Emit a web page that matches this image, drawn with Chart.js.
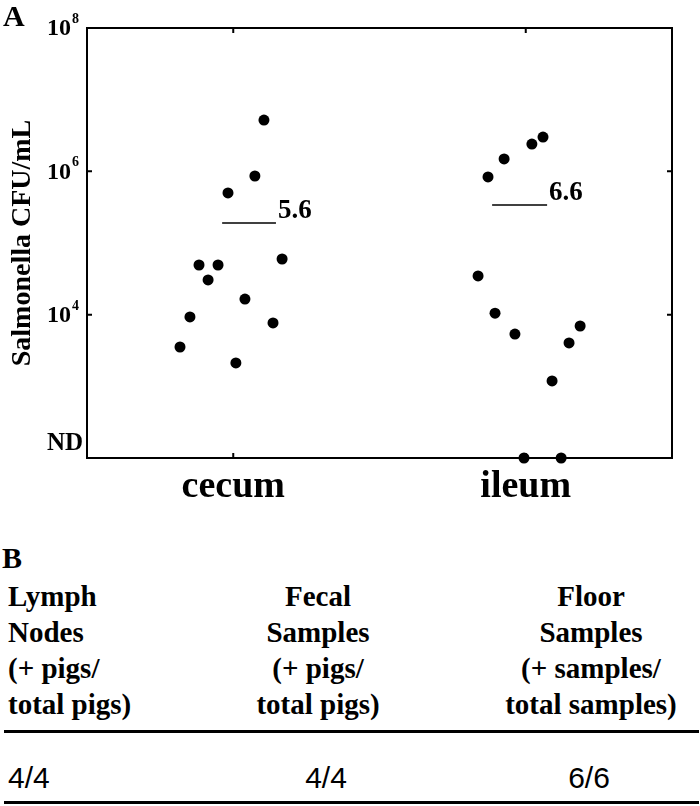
<!DOCTYPE html>
<html>
<head>
<meta charset="utf-8">
<script src="https://cdn.jsdelivr.net/npm/chart.js@4.4.1/dist/chart.umd.min.js"></script>
<style>
  html, body { margin: 0; padding: 0; background: #fff; }
  body { width: 700px; height: 806px; position: relative; overflow: hidden; font-family: "Liberation Serif", "Times New Roman", serif; color: #000; }
  #chart { position: absolute; left: 0; top: 0; }
  .panel { position: absolute; font-weight: bold; font-size: 30px; line-height: 1; }
  .hdr { position: absolute; font-weight: bold; font-size: 29px; line-height: 36px; white-space: nowrap; }
  .val { position: absolute; font-family: "Liberation Sans", Arial, sans-serif; font-size: 30px; line-height: 1; white-space: nowrap; }
  .rule { position: absolute; left: 4px; width: 695px; height: 3px; background: #000; }
</style>
</head>
<body>
<canvas id="chart" width="700" height="520"></canvas>
<div class="panel" style="left:3px; top:1px;">A</div>
<div class="panel" style="left:2px; top:543px;">B</div>
<div id="table"></div>
<script>
// ---------- data ----------
const categories = ["cecum", "ileum"];
const categoryPos = [1, 2];
const yTickValues = [1e2, 1e4, 1e6, 1e8];
const yTickBase = ["ND", "10", "10", "10"];
const yTickExp  = ["", "4", "6", "8"];
const yTitle = "Salmonella CFU/mL";

// cecum: jittered x position and CFU/mL
const cecumX   = [0.818, 0.852, 0.883, 0.914, 0.948, 0.982, 1.009, 1.040, 1.074, 1.105, 1.136, 1.167];
const cecumCFU = [3540, 9290, 49300, 30500, 49300, 499000, 2120, 16500, 861000, 5200000, 7660, 59800];

// ileum: jittered x position and CFU/mL (100 = ND)
const ileumX   = [1.837, 1.871, 1.895, 1.926, 1.963, 1.994, 2.021, 2.059, 2.090, 2.121, 2.148, 2.186];
const ileumCFU = [34700, 834000, 10500, 1490000, 5370, 100, 2400000, 3010000, 1190, 100, 4030, 6950];

// mean bars
const meanXStart = [0.962, 1.885];
const meanXEnd   = [1.146, 2.073];
const meanCFU    = [190000, 339000];
const meanLabels = ["5.6", "6.6"];

// table (panel B)
const tableHeaders = [
  ["Lymph", "Nodes", "(+ pigs/", "total pigs)"],
  ["Fecal", "Samples", "(+ pigs/", "total pigs)"],
  ["Floor", "Samples", "(+ samples/", "total samples)"]
];
const tableValues = ["4/4", "4/4", "6/6"];

// ---------- table ----------
const tbl = document.getElementById('table');
const hdrPlace = [
  {left: 8, width: 200, align: 'left'},
  {left: 218, width: 200, align: 'center'},
  {left: 491, width: 200, align: 'center'}
];
const valPlace = [
  {left: 8, width: 100, align: 'left'},
  {left: 276, width: 100, align: 'center'},
  {left: 539, width: 100, align: 'center'}
];
tableHeaders.forEach((lines, i) => {
  const d = document.createElement('div');
  d.className = 'hdr';
  d.style.left = hdrPlace[i].left + 'px';
  d.style.width = hdrPlace[i].width + 'px';
  d.style.textAlign = hdrPlace[i].align;
  d.style.top = '578px';
  lines.forEach(t => {
    const s = document.createElement('div');
    s.textContent = t;
    d.appendChild(s);
  });
  tbl.appendChild(d);
});
tableValues.forEach((t, i) => {
  const d = document.createElement('div');
  d.className = 'val';
  d.style.left = valPlace[i].left + 'px';
  d.style.width = valPlace[i].width + 'px';
  d.style.textAlign = valPlace[i].align;
  d.style.top = '763px';
  d.textContent = t;
  tbl.appendChild(d);
});
[730, 801].forEach(y => {
  const r = document.createElement('div');
  r.className = 'rule';
  r.style.top = y + 'px';
  tbl.appendChild(r);
});

// ---------- chart ----------
const FONT = "'Liberation Serif', 'Times New Roman', serif";

const framePlugin = {
  id: 'frame',
  beforeDatasetsDraw(chart) {
    const {ctx, chartArea: a, scales: {x, y}} = chart;
    ctx.save();
    ctx.strokeStyle = '#000';
    ctx.lineWidth = 2;
    ctx.strokeRect(a.left, a.top, a.right - a.left, a.bottom - a.top);
    const L = 5;
    ctx.beginPath();
    y.ticks.forEach(t => {
      const py = y.getPixelForValue(t.value);
      ctx.moveTo(a.left, py); ctx.lineTo(a.left + L, py);
      ctx.moveTo(a.right, py); ctx.lineTo(a.right - L, py);
    });
    x.ticks.forEach(t => {
      const px = x.getPixelForValue(t.value);
      ctx.moveTo(px, a.top); ctx.lineTo(px, a.top + L);
      ctx.moveTo(px, a.bottom); ctx.lineTo(px, a.bottom - L);
    });
    ctx.stroke();

    // y tick labels with real superscript exponents
    ctx.fillStyle = '#000';
    const right = a.left - 8;
    y.ticks.forEach((t, i) => {
      const py = y.getPixelForValue(t.value);
      const exp = yTickExp[i];
      ctx.textAlign = 'right';
      if (exp) {
        ctx.font = "bold 14px " + FONT;
        ctx.textBaseline = 'alphabetic';
        const ew = ctx.measureText(exp).width;
        ctx.fillText(exp, right, py - 5);
        ctx.font = "bold 24px " + FONT;
        ctx.textBaseline = 'middle';
        ctx.fillText(yTickBase[i], right - ew - 1, py + 1);
      } else {
        ctx.font = "bold 25px " + FONT;
        ctx.textBaseline = 'alphabetic';
        ctx.fillText(yTickBase[i], right + 4, py - 8);
      }
    });
    ctx.restore();
  },
  afterDatasetsDraw(chart) {
    const {ctx} = chart;
    ctx.save();
    ctx.fillStyle = '#000';
    ctx.font = "bold 27px " + FONT;
    ctx.textAlign = 'left';
    ctx.textBaseline = 'alphabetic';
    meanLabels.forEach((lab, i) => {
      const meta = chart.getDatasetMeta(2 + i);
      const p = meta.data[1];
      ctx.fillText(lab, p.x + 2, p.y - 5);
    });
    ctx.restore();
  }
};

const pointStyle = {
  type: 'scatter',
  backgroundColor: '#000',
  borderColor: '#000',
  borderWidth: 0,
  pointRadius: 5.5,
  pointHoverRadius: 5.5,
  clip: false
};

const datasets = [
  Object.assign({label: categories[0], data: cecumX.map((x, i) => ({x, y: cecumCFU[i]}))}, pointStyle),
  Object.assign({label: categories[1], data: ileumX.map((x, i) => ({x, y: ileumCFU[i]}))}, pointStyle)
];
meanCFU.forEach((v, i) => {
  datasets.push({
    type: 'line',
    label: 'mean ' + categories[i],
    data: [{x: meanXStart[i], y: v}, {x: meanXEnd[i], y: v}],
    borderColor: '#000',
    borderWidth: 1.5,
    pointRadius: 0,
    fill: false,
    clip: false
  });
});

new Chart(document.getElementById('chart'), {
  type: 'scatter',
  data: {datasets},
  options: {
    responsive: false,
    animation: false,
    devicePixelRatio: 1,
    layout: {padding: {left: 0, top: 28, right: 28, bottom: 0}},
    plugins: {legend: {display: false}, tooltip: {enabled: false}},
    scales: {
      x: {
        type: 'linear',
        min: 0.5, max: 2.5,
        afterBuildTicks: s => { s.ticks = categoryPos.map(v => ({value: v})); },
        afterFit: s => { s.height = 62; },
        grid: {display: false, drawTicks: false},
        border: {display: false},
        ticks: {
          callback: (v, i) => categories[i],
          font: {family: FONT, weight: 'bold', size: 38},
          color: '#000',
          padding: 6,
          autoSkip: false,
          maxRotation: 0
        }
      },
      y: {
        type: 'logarithmic',
        min: 1e2, max: 1e8,
        afterBuildTicks: s => { s.ticks = yTickValues.map(v => ({value: v})); },
        afterFit: s => { s.width = 87; },
        grid: {display: false, drawTicks: false},
        border: {display: false},
        ticks: {
          display: false
        },
        title: {
          display: true,
          text: yTitle,
          font: {family: FONT, weight: 'bold', size: 28},
          color: '#000',
          padding: {top: 6, bottom: 0}
        }
      }
    }
  },
  plugins: [framePlugin]
});
</script>
</body>
</html>
